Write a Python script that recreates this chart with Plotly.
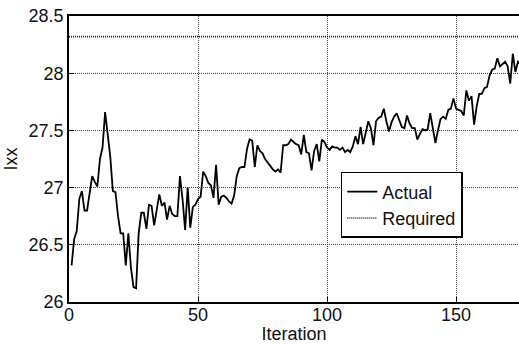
import plotly.graph_objects as go

# Ixx per optimisation iteration
iterations = list(range(1, 176))
actual = [
    26.32, 26.55, 26.62, 26.90, 26.97, 26.80, 26.80, 26.95, 27.10, 27.05,
    27.01, 27.25, 27.35, 27.66, 27.48, 27.27, 26.97, 26.96, 26.75, 26.60,
    26.60, 26.32, 26.60, 26.30, 26.13, 26.12, 26.60, 26.78, 26.78, 26.64,
    26.85, 26.84, 26.67, 26.80, 26.94, 26.84, 26.87, 26.72, 26.84, 26.77,
    26.75, 26.75, 27.10, 26.90, 26.63, 27.00, 26.65, 26.83, 26.85, 26.90,
    26.92, 27.14, 27.10, 27.04, 27.02, 26.91, 27.20, 26.85, 26.92, 26.93,
    26.91, 26.88, 26.86, 26.93, 27.10, 27.17, 27.18, 27.18, 27.34, 27.42,
    27.41, 27.18, 27.37, 27.32, 27.30, 27.25, 27.22, 27.18, 27.16, 27.14,
    27.16, 27.13, 27.37, 27.37, 27.38, 27.42, 27.40, 27.38, 27.37, 27.29,
    27.46, 27.31, 27.30, 27.15, 27.32, 27.38, 27.23, 27.42, 27.40, 27.35,
    27.33, 27.36, 27.35, 27.35, 27.33, 27.35, 27.31, 27.33, 27.31, 27.36,
    27.45, 27.38, 27.53, 27.38, 27.48, 27.58, 27.52, 27.37, 27.58, 27.61,
    27.62, 27.69, 27.58, 27.49, 27.57, 27.62, 27.65, 27.58, 27.53, 27.52,
    27.63, 27.56, 27.52, 27.52, 27.42, 27.47, 27.51, 27.50, 27.51, 27.65,
    27.50, 27.39, 27.50, 27.60, 27.62, 27.60, 27.68, 27.69, 27.78, 27.69,
    27.68, 27.67, 27.63, 27.85, 27.76, 27.80, 27.55, 27.71, 27.82, 27.82,
    27.87, 27.88, 27.98, 28.03, 28.04, 28.13, 28.06, 28.08, 28.10, 28.06,
    27.91, 28.17, 28.01, 28.10, 28.08,
]
required_value = 28.32
required_x = [0, 175]

x_ticks = [0, 50, 100, 150]
y_ticks = [26, 26.5, 27, 27.5, 28, 28.5]
y_tick_text = ["26", "26.5", "27", "27.5", "28", "28.5"]

font = dict(family="Liberation Sans, Arial, sans-serif", size=18, color="#111")
tick_font = dict(family="Liberation Sans, Arial, sans-serif", size=18, color="#111")

fig = go.Figure()
fig.add_trace(go.Scatter(
    x=iterations, y=actual, mode="lines", name="Actual",
    line=dict(color="black", width=1.8),
))
fig.add_trace(go.Scatter(
    x=required_x, y=[required_value] * len(required_x), mode="lines", name="Required",
    line=dict(color="#222", width=1.6, dash="1px,1px"),
))

fig.update_layout(
    width=519, height=344,
    margin=dict(l=69, r=0, t=16, b=42, autoexpand=False),
    paper_bgcolor="white", plot_bgcolor="white",
    font=font,
    showlegend=True,
    legend=dict(
        x=0.604, y=0.455, xanchor="left", yanchor="top",
        bgcolor="white", bordercolor="black", borderwidth=1.5,
        font=font,
        itemwidth=30, tracegroupgap=0,
    ),
)
fig.update_xaxes(
    range=[0, 174.4], tickvals=x_ticks, ticks="inside", ticklen=5,
    tickfont=tick_font, ticklabelstandoff=-4, automargin=False,
    tickcolor="black", showline=True, linecolor="black", linewidth=1.5, mirror=True,
    showgrid=True, gridcolor="#444", griddash="1px,1px", gridwidth=1,
    zeroline=False,
    title=dict(text="Iteration", standoff=0, font=font),
)
fig.update_yaxes(
    range=[26, 28.5], tickvals=y_ticks, ticktext=y_tick_text, ticks="inside", ticklen=5,
    tickfont=tick_font, automargin=False,
    tickcolor="black", showline=True, linecolor="black", linewidth=1.5,
    showgrid=True, gridcolor="#444", griddash="1px,1px", gridwidth=1,
    zeroline=False,
    title=dict(text="Ixx", standoff=6, font=font),
)

fig.write_html("out.html")
